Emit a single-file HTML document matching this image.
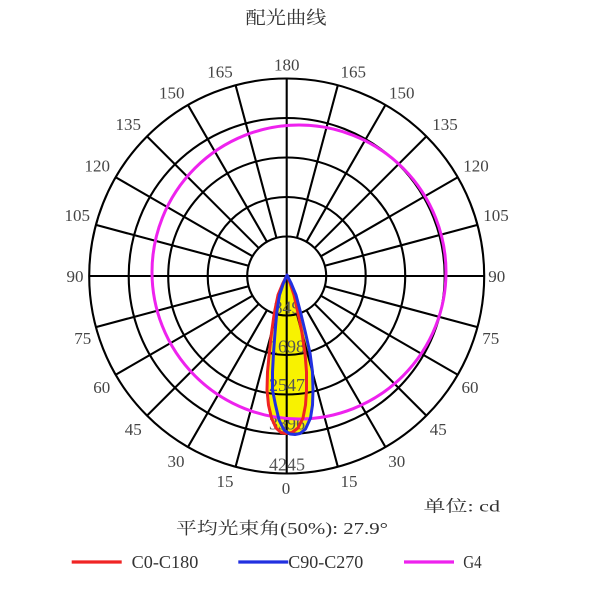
<!DOCTYPE html>
<html>
<head>
<meta charset="utf-8">
<style>
  html,body{margin:0;padding:0;background:#fff;}
  svg{display:block;}
</style>
</head>
<body>
<svg width="600" height="600" viewBox="0 0 600 600" xmlns="http://www.w3.org/2000/svg">
  <rect width="600" height="600" fill="#fff"/>

  <!-- Title -->
  <text x="286" y="18" font-family="'Liberation Serif','Noto Serif CJK SC','Noto Sans CJK SC',serif" font-size="18" fill="#333" text-anchor="middle" dominant-baseline="central" textLength="81" lengthAdjust="spacingAndGlyphs">配光曲线</text>

  <!-- yellow fill (union of shapes) -->
  <g fill="#f8f200" stroke="none">
    <polygon points="287,275 290,283 294,295 298,313 302,333 305,353 306.5,372 306.5,390 305.5,405 303,418 298,428 292,432.5 286,433.5 281,432.5 276,428 271.5,418 268.5,405 267,390 267.5,372 269.3,353 271.5,333 274.3,313 278,295 283,283"/>
    <polygon points="287,275 291,283 296,295 300.7,313 305.5,333 310,353 312.5,372 313,390 312.5,405 310.5,418 305.5,429 300,433.5 295,434.5 290,434 284,430 279,420 275.5,405 272.5,390 272.5,372 273.5,353 275,333 276.7,313 279.5,295 283.5,283"/>
  </g>

  <!-- Grid -->
  <g fill="none" stroke="#000" stroke-width="2.1">
    <circle cx="286.7" cy="276" r="39.5"/>
    <circle cx="286.7" cy="276" r="79"/>
    <circle cx="286.7" cy="276" r="118.5"/>
    <circle cx="286.7" cy="276" r="158"/>
    <circle cx="286.7" cy="276" r="197.5"/>
    <line x1="286.7" y1="78.5" x2="286.7" y2="473.5"/>
    <line x1="89.2" y1="276" x2="484.2" y2="276"/>
    <g>
      <line x1="286.7" y1="315.5" x2="286.7" y2="473.5" transform="rotate(15 286.7 276)"/>
      <line x1="286.7" y1="315.5" x2="286.7" y2="473.5" transform="rotate(30 286.7 276)"/>
      <line x1="286.7" y1="315.5" x2="286.7" y2="473.5" transform="rotate(45 286.7 276)"/>
      <line x1="286.7" y1="315.5" x2="286.7" y2="473.5" transform="rotate(60 286.7 276)"/>
      <line x1="286.7" y1="315.5" x2="286.7" y2="473.5" transform="rotate(75 286.7 276)"/>
      <line x1="286.7" y1="315.5" x2="286.7" y2="473.5" transform="rotate(105 286.7 276)"/>
      <line x1="286.7" y1="315.5" x2="286.7" y2="473.5" transform="rotate(120 286.7 276)"/>
      <line x1="286.7" y1="315.5" x2="286.7" y2="473.5" transform="rotate(135 286.7 276)"/>
      <line x1="286.7" y1="315.5" x2="286.7" y2="473.5" transform="rotate(150 286.7 276)"/>
      <line x1="286.7" y1="315.5" x2="286.7" y2="473.5" transform="rotate(165 286.7 276)"/>
      <line x1="286.7" y1="315.5" x2="286.7" y2="473.5" transform="rotate(195 286.7 276)"/>
      <line x1="286.7" y1="315.5" x2="286.7" y2="473.5" transform="rotate(210 286.7 276)"/>
      <line x1="286.7" y1="315.5" x2="286.7" y2="473.5" transform="rotate(225 286.7 276)"/>
      <line x1="286.7" y1="315.5" x2="286.7" y2="473.5" transform="rotate(240 286.7 276)"/>
      <line x1="286.7" y1="315.5" x2="286.7" y2="473.5" transform="rotate(255 286.7 276)"/>
      <line x1="286.7" y1="315.5" x2="286.7" y2="473.5" transform="rotate(285 286.7 276)"/>
      <line x1="286.7" y1="315.5" x2="286.7" y2="473.5" transform="rotate(300 286.7 276)"/>
      <line x1="286.7" y1="315.5" x2="286.7" y2="473.5" transform="rotate(315 286.7 276)"/>
      <line x1="286.7" y1="315.5" x2="286.7" y2="473.5" transform="rotate(330 286.7 276)"/>
      <line x1="286.7" y1="315.5" x2="286.7" y2="473.5" transform="rotate(345 286.7 276)"/>
    </g>
  </g>

  <!-- Angle labels -->
  <g font-family="'Liberation Serif',serif" font-size="17" fill="#444" text-anchor="middle" dominant-baseline="central">
    <text x="286.7" y="65">180</text>
    <text x="220" y="72">165</text>
    <text x="353.3" y="72">165</text>
    <text x="171.7" y="93">150</text>
    <text x="401.7" y="93">150</text>
    <text x="128.3" y="124.5">135</text>
    <text x="445" y="124.5">135</text>
    <text x="97.3" y="166">120</text>
    <text x="476" y="166">120</text>
    <text x="77.3" y="215.5">105</text>
    <text x="496" y="215.5">105</text>
    <text x="75" y="276.5">90</text>
    <text x="496.7" y="276.5">90</text>
    <text x="82.7" y="338.5">75</text>
    <text x="490.7" y="338.5">75</text>
    <text x="101.7" y="387.3">60</text>
    <text x="470" y="387.3">60</text>
    <text x="133.3" y="429.5">45</text>
    <text x="438.3" y="429.5">45</text>
    <text x="176" y="461.7">30</text>
    <text x="396.7" y="461.7">30</text>
    <text x="225" y="481.7">15</text>
    <text x="349" y="481.7">15</text>
    <text x="286" y="488.5">0</text>
  </g>

  <!-- Ring value labels -->
  <g font-family="'Liberation Serif',serif" font-size="18" fill="#555" text-anchor="middle" dominant-baseline="central">
    <text x="287" y="307.5">849</text>
    <text x="287" y="346.5">1698</text>
    <text x="287" y="385">2547</text>
    <text x="287" y="423.5">3396</text>
    <text x="287" y="464.5">4245</text>
  </g>

  <!-- G4 -->
  <circle cx="299" cy="272" r="147" fill="none" stroke="#ee22ee" stroke-width="3"/>

  <!-- C0-C180 red -->
  <polygon fill="none" stroke="#f02424" stroke-width="3" stroke-linejoin="round" points="287,275 290,283 294,295 298,313 302,333 305,353 306.5,372 306.5,390 305.5,405 303,418 298,428 292,432.5 286,433.5 281,432.5 276,428 271.5,418 268.5,405 267,390 267.5,372 269.3,353 271.5,333 274.3,313 278,295 283,283"/>

  <!-- C90-C270 blue -->
  <polygon fill="none" stroke="#2230e0" stroke-width="3" stroke-linejoin="round" points="287,275 291,283 296,295 300.7,313 305.5,333 310,353 312.5,372 313,390 312.5,405 310.5,418 305.5,429 300,433.5 295,434.5 290,434 284,430 279,420 275.5,405 272.5,390 272.5,372 273.5,353 275,333 276.7,313 279.5,295 283.5,283"/>

  <!-- Unit -->
  <text x="423.5" y="507" font-family="'Liberation Serif','Noto Serif CJK SC','Noto Sans CJK SC',serif" font-size="16" fill="#333" dominant-baseline="central" textLength="76.5" lengthAdjust="spacingAndGlyphs">单位: cd</text>

  <!-- Beam angle -->
  <text x="176" y="528.5" font-family="'Liberation Serif','Noto Serif CJK SC','Noto Sans CJK SC',serif" font-size="17" fill="#333" dominant-baseline="central" textLength="212" lengthAdjust="spacingAndGlyphs">平均光束角(50%): 27.9°</text>

  <!-- Legend -->
  <g stroke-width="3.2">
    <line x1="71.7" y1="562" x2="121.7" y2="562" stroke="#f02424"/>
    <line x1="238.3" y1="562" x2="288.3" y2="562" stroke="#2230e0"/>
    <line x1="404" y1="562" x2="454" y2="562" stroke="#ee22ee"/>
  </g>
  <g font-family="'Liberation Serif',serif" font-size="18" fill="#333" dominant-baseline="central">
    <text x="131.7" y="562" textLength="66.6" lengthAdjust="spacingAndGlyphs">C0-C180</text>
    <text x="288.3" y="562" textLength="75" lengthAdjust="spacingAndGlyphs">C90-C270</text>
    <text x="463.3" y="562" textLength="18.4" lengthAdjust="spacingAndGlyphs">G4</text>
  </g>
</svg>
</body>
</html>
